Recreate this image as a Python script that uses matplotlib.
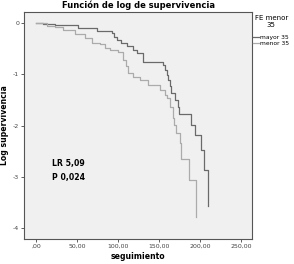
import matplotlib
matplotlib.use('Agg')
import matplotlib.pyplot as plt
import numpy as np

# log-survival step curves
t_mayor = [0, 8.5, 23.2, 51.2, 74.4, 92.7, 95.1, 98.8, 103.7, 111.0, 118.3, 123.2, 130.5,
           154.9, 157.3, 159.8, 161.0, 163.4, 164.6, 169.5, 173.2, 174.0, 188.7, 193.9,
           201.2, 204.3, 210.1]
y_mayor = [0, -0.02, -0.04, -0.10, -0.15, -0.20, -0.27, -0.33, -0.39, -0.45, -0.53, -0.59, -0.76,
           -0.82, -0.92, -1.01, -1.11, -1.23, -1.37, -1.50, -1.64, -1.78, -1.99, -2.19,
           -2.48, -2.87, -3.57]

t_menor = [0, 13.4, 23.2, 32.9, 47.6, 59.8, 68.3, 78.0, 84.1, 90.2, 100.0, 106.1, 109.8, 112.2,
           118.3, 126.8, 136.6, 151.2, 157.3, 159.8, 163.4, 167.1, 168.3, 170.7, 175.6, 176.8,
           186.6, 195.1]
y_menor = [0, -0.06, -0.08, -0.14, -0.21, -0.29, -0.39, -0.41, -0.49, -0.53, -0.57, -0.72, -0.84,
           -0.98, -1.05, -1.11, -1.21, -1.31, -1.40, -1.46, -1.64, -1.85, -1.99, -2.15, -2.34,
           -2.65, -3.06, -3.79]

xticks = [0, 50, 100, 150, 200, 250]
xlabels = [',00', '50,00', '100,00', '150,00', '200,00', '250,00']
yticks = [0, -1, -2, -3, -4]
ylabels = ['0', '-1', '-2', '-3', '-4']

fig = plt.figure(figsize=(2.94, 2.64), dpi=100)
ax = fig.add_axes([24/294, 1-239/264, 228/294, 227/264])
ax.set_facecolor('#f0f0f0')

ax.step(t_mayor, y_mayor, where='post', color='#6a6a6a', lw=0.9, label='mayor 35')
ax.step(t_menor, y_menor, where='post', color='#ababab', lw=0.9, label='menor 35')

ax.set_xlim(-14.6, 263.4)
ax.set_ylim(-4.21, 0.215)
ax.set_xticks(xticks)
ax.set_xticklabels(xlabels)
ax.set_yticks(yticks)
ax.set_yticklabels(ylabels)
ax.tick_params(labelsize=4.5, length=2, width=0.6, colors='#444444', pad=1.5)
for s in ax.spines.values():
    s.set_color('#555555')
    s.set_linewidth(0.8)

ax.set_title('Función de log de supervivencia', fontsize=6, fontweight='bold', pad=3)
ax.set_xlabel('seguimiento', fontsize=5.6, fontweight='bold', labelpad=2)
ax.set_ylabel('Log supervivencia', fontsize=5.6, fontweight='bold', labelpad=3)

ax.text(20, -2.73, 'LR 5,09', fontsize=5.6, fontweight='bold', va='center')
ax.text(20, -3.02, 'P 0,024', fontsize=5.6, fontweight='bold', va='center')

leg = fig.legend(loc='upper left', bbox_to_anchor=(252/294, 1-14/264), frameon=False,
                 fontsize=4.3, title='FE menor\n35', title_fontsize=5,
                 handlelength=1.0, handletextpad=0.2, labelspacing=0.15, borderaxespad=0,
                 borderpad=0.2)
leg.get_title().set_multialignment('center')
leg._legend_box.sep = 5

fig.savefig('out.png', dpi=100)
